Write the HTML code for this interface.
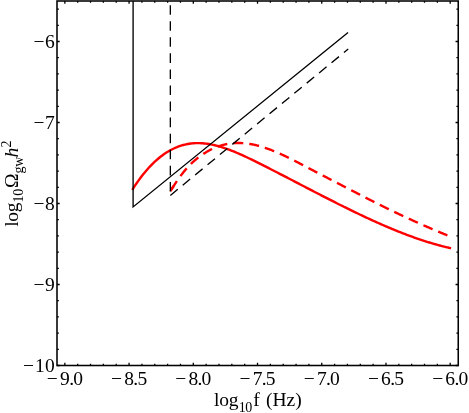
<!DOCTYPE html>
<html><head><meta charset="utf-8"><title>plot</title>
<style>
html,body{margin:0;padding:0;background:#fff;}
body{width:469px;height:413px;overflow:hidden;}
svg{display:block;will-change:transform;transform:translateZ(0);}
text{font-family:"Liberation Serif",serif;font-size:19.5px;fill:#000;}
</style></head><body>
<svg width="469" height="413" viewBox="0 0 469 413">
<rect x="0" y="0" width="469" height="413" fill="#fff"/>
<clipPath id="c"><rect x="57.0" y="1.0" width="401.25" height="364.5"/></clipPath>
<g clip-path="url(#c)" fill="none">
<path d="M132.30 189.81 L133.80 187.46 L135.30 185.19 L136.80 182.98 L138.30 180.85 L139.80 178.78 L141.30 176.78 L142.80 174.84 L144.30 172.97 L145.80 171.17 L147.30 169.43 L148.80 167.76 L150.30 166.15 L151.80 164.60 L153.30 163.11 L154.80 161.68 L156.30 160.31 L157.80 159.00 L159.30 157.75 L160.80 156.55 L162.30 155.42 L163.80 154.34 L165.30 153.31 L166.80 152.34 L168.30 151.42 L169.80 150.55 L171.30 149.74 L172.80 148.98 L174.30 148.27 L175.80 147.60 L177.30 146.99 L178.80 146.43 L180.30 145.91 L181.80 145.44 L183.30 145.01 L184.80 144.63 L186.30 144.30 L187.80 144.01 L189.30 143.76 L190.80 143.55 L192.30 143.38 L193.80 143.26 L195.30 143.17 L196.80 143.13 L198.30 143.12 L199.80 143.15 L201.30 143.21 L202.80 143.31 L204.30 143.44 L205.80 143.61 L207.30 143.80 L208.80 144.03 L210.30 144.29 L211.80 144.58 L213.30 144.90 L214.80 145.24 L216.30 145.61 L217.80 146.00 L219.30 146.42 L220.80 146.86 L222.30 147.33 L223.80 147.81 L225.30 148.32 L226.80 148.84 L228.30 149.38 L229.80 149.94 L231.30 150.52 L232.80 151.11 L234.30 151.72 L235.80 152.34 L237.30 152.98 L238.80 153.63 L240.30 154.29 L241.80 154.96 L243.30 155.64 L244.80 156.33 L246.30 157.04 L247.80 157.75 L249.30 158.46 L250.80 159.19 L252.30 159.92 L253.80 160.66 L255.30 161.40 L256.80 162.14 L258.30 162.89 L259.80 163.64 L261.30 164.40 L262.80 165.15 L264.30 165.91 L265.80 166.67 L267.30 167.43 L268.80 168.19 L270.30 168.96 L271.80 169.72 L273.30 170.49 L274.80 171.26 L276.30 172.03 L277.80 172.80 L279.30 173.57 L280.80 174.34 L282.30 175.12 L283.80 175.89 L285.30 176.67 L286.80 177.44 L288.30 178.22 L289.80 179.00 L291.30 179.77 L292.80 180.55 L294.30 181.33 L295.80 182.11 L297.30 182.89 L298.80 183.67 L300.30 184.45 L301.80 185.23 L303.30 186.01 L304.80 186.79 L306.30 187.56 L307.80 188.34 L309.30 189.12 L310.80 189.90 L312.30 190.67 L313.80 191.45 L315.30 192.22 L316.80 193.00 L318.30 193.77 L319.80 194.54 L321.30 195.32 L322.80 196.09 L324.30 196.85 L325.80 197.62 L327.30 198.39 L328.80 199.15 L330.30 199.91 L331.80 200.68 L333.30 201.44 L334.80 202.19 L336.30 202.95 L337.80 203.70 L339.30 204.46 L340.80 205.21 L342.30 205.95 L343.80 206.70 L345.30 207.44 L346.80 208.18 L348.30 208.92 L349.80 209.65 L351.30 210.39 L352.80 211.12 L354.30 211.84 L355.80 212.57 L357.30 213.29 L358.80 214.01 L360.30 214.72 L361.80 215.44 L363.30 216.14 L364.80 216.85 L366.30 217.55 L367.80 218.25 L369.30 218.94 L370.80 219.63 L372.30 220.32 L373.80 221.00 L375.30 221.68 L376.80 222.35 L378.30 223.02 L379.80 223.69 L381.30 224.35 L382.80 225.00 L384.30 225.65 L385.80 226.30 L387.30 226.94 L388.80 227.58 L390.30 228.21 L391.80 228.83 L393.30 229.46 L394.80 230.07 L396.30 230.68 L397.80 231.28 L399.30 231.88 L400.80 232.48 L402.30 233.06 L403.80 233.64 L405.30 234.22 L406.80 234.79 L408.30 235.35 L409.80 235.90 L411.30 236.45 L412.80 236.99 L414.30 237.53 L415.80 238.06 L417.30 238.58 L418.80 239.10 L420.30 239.60 L421.80 240.10 L423.30 240.60 L424.80 241.08 L426.30 241.56 L427.80 242.03 L429.30 242.50 L430.80 242.95 L432.30 243.40 L433.80 243.84 L435.30 244.27 L436.80 244.69 L438.30 245.11 L439.80 245.51 L441.30 245.91 L442.80 246.30 L444.30 246.68 L445.80 247.05 L447.30 247.42 L448.80 247.77 L450.30 248.12 L451.10 248.30" stroke="#f00" stroke-width="2.4" stroke-linejoin="round"/>
<path d="M170.50 191.04 L171.25 189.82 L172.00 188.61 L172.75 187.42 L173.50 186.24 L174.25 185.08 L175.00 183.93 L175.75 182.80 L176.50 181.68 L177.25 180.59 L178.00 179.51 L178.75 178.44 L179.50 177.40 L180.25 176.37 L181.00 175.37 L181.75 174.38 L182.50 173.41 L183.25 172.46 L184.00 171.53 L184.75 170.62 L185.50 169.74 L186.25 168.87 L187.00 168.03 L187.75 167.21 L188.50 166.41 L189.25 165.62 L190.00 164.86 L190.75 164.12 L191.50 163.39 L192.25 162.68 L193.00 161.99 L193.75 161.32 L194.50 160.66 L195.25 160.02 L196.00 159.39 L196.75 158.78 L197.50 158.18 L198.25 157.60 L199.00 157.02 L199.75 156.46 L200.50 155.92 L201.25 155.38 L202.00 154.86 L202.75 154.35 L203.50 153.85 L204.25 153.37 L205.00 152.90 L205.75 152.44 L206.50 151.99 L207.25 151.55 L208.00 151.12 L208.75 150.71 L209.50 150.31 L210.25 149.92 L211.00 149.54 L211.75 149.17 L212.50 148.81 L213.25 148.47 L214.00 148.14 L214.75 147.81 L215.50 147.50 L216.25 147.20 L217.00 146.91 L217.75 146.63 L218.50 146.37 L219.25 146.11 L220.00 145.86 L220.75 145.63 L221.50 145.40 L222.25 145.19 L223.00 144.99 L223.75 144.79 L224.50 144.61 L225.25 144.44 L226.00 144.27 L226.75 144.12 L227.50 143.98 L228.25 143.85 L229.00 143.72 L229.75 143.61 L230.50 143.51 L231.25 143.42 L232.00 143.33 L232.75 143.26 L233.50 143.19 L234.25 143.14 L235.00 143.09 L235.75 143.06 L236.50 143.03 L237.25 143.01 L238.00 143.00 L238.75 143.00 L239.50 143.01 L240.25 143.02 L241.00 143.05 L241.75 143.08 L242.50 143.12 L243.25 143.18 L244.00 143.23 L244.75 143.30 L245.50 143.37 L246.25 143.46 L247.00 143.55 L247.75 143.64 L248.50 143.75 L249.25 143.86 L250.00 143.98 L250.75 144.11 L251.50 144.24 L252.25 144.39 L253.00 144.54 L253.75 144.69 L254.50 144.85 L255.25 145.02 L256.00 145.20 L256.75 145.38 L257.50 145.57 L258.25 145.76 L259.00 145.96 L259.75 146.17 L260.50 146.38 L261.25 146.60 L262.00 146.83 L262.75 147.06 L263.50 147.29 L264.25 147.54 L265.00 147.78 L265.75 148.04 L266.50 148.29 L267.25 148.56 L268.00 148.82 L268.75 149.10 L269.50 149.37 L270.25 149.66 L271.00 149.94 L271.75 150.24 L272.50 150.53 L273.25 150.83 L274.00 151.14 L274.75 151.44 L275.50 151.76 L276.25 152.07 L277.00 152.39 L277.75 152.72 L278.50 153.05 L279.25 153.38 L280.00 153.71 L280.75 154.05 L281.50 154.39 L282.25 154.74 L283.00 155.09 L283.75 155.44 L284.50 155.79 L285.25 156.15 L286.00 156.51 L286.75 156.87 L287.50 157.23 L288.25 157.60 L289.00 157.97 L289.75 158.34 L290.50 158.71 L291.25 159.09 L292.00 159.46 L292.75 159.84 L293.50 160.22 L294.25 160.61 L295.00 160.99 L295.75 161.37 L296.50 161.76 L297.25 162.15 L298.00 162.54 L298.75 162.93 L299.50 163.32 L300.25 163.71 L301.00 164.10 L301.75 164.50 L302.50 164.89 L303.25 165.28 L304.00 165.68 L304.75 166.07 L305.50 166.47 L306.25 166.86 L307.00 167.26 L307.75 167.65 L308.50 168.04 L309.25 168.44 L310.00 168.83 L310.75 169.23 L311.50 169.62 L312.25 170.01 L313.00 170.40 L313.75 170.80 L314.50 171.19 L315.25 171.58 L316.00 171.97 L316.75 172.36 L317.50 172.75 L318.25 173.14 L319.00 173.53 L319.75 173.92 L320.50 174.31 L321.25 174.70 L322.00 175.09 L322.75 175.48 L323.50 175.87 L324.25 176.26 L325.00 176.65 L325.75 177.04 L326.50 177.42 L327.25 177.81 L328.00 178.20 L328.75 178.59 L329.50 178.98 L330.25 179.37 L331.00 179.75 L331.75 180.14 L332.50 180.53 L333.25 180.92 L334.00 181.30 L334.75 181.69 L335.50 182.08 L336.25 182.47 L337.00 182.85 L337.75 183.24 L338.50 183.63 L339.25 184.02 L340.00 184.40 L340.75 184.79 L341.50 185.18 L342.25 185.56 L343.00 185.95 L343.75 186.34 L344.50 186.73 L345.25 187.12 L346.00 187.50 L346.75 187.89 L347.50 188.28 L348.25 188.67 L349.00 189.05 L349.75 189.44 L350.50 189.83 L351.25 190.22 L352.00 190.61 L352.75 191.00 L353.50 191.38 L354.25 191.77 L355.00 192.16 L355.75 192.55 L356.50 192.93 L357.25 193.32 L358.00 193.71 L358.75 194.10 L359.50 194.48 L360.25 194.87 L361.00 195.26 L361.75 195.64 L362.50 196.03 L363.25 196.41 L364.00 196.80 L364.75 197.18 L365.50 197.57 L366.25 197.95 L367.00 198.33 L367.75 198.72 L368.50 199.10 L369.25 199.48 L370.00 199.86 L370.75 200.24 L371.50 200.63 L372.25 201.01 L373.00 201.39 L373.75 201.76 L374.50 202.14 L375.25 202.52 L376.00 202.90 L376.75 203.27 L377.50 203.65 L378.25 204.03 L379.00 204.40 L379.75 204.77 L380.50 205.15 L381.25 205.52 L382.00 205.89 L382.75 206.26 L383.50 206.63 L384.25 207.00 L385.00 207.37 L385.75 207.74 L386.50 208.10 L387.25 208.47 L388.00 208.83 L388.75 209.20 L389.50 209.56 L390.25 209.93 L391.00 210.29 L391.75 210.65 L392.50 211.01 L393.25 211.37 L394.00 211.73 L394.75 212.09 L395.50 212.45 L396.25 212.80 L397.00 213.16 L397.75 213.51 L398.50 213.87 L399.25 214.22 L400.00 214.58 L400.75 214.93 L401.50 215.28 L402.25 215.63 L403.00 215.98 L403.75 216.33 L404.50 216.68 L405.25 217.03 L406.00 217.38 L406.75 217.72 L407.50 218.07 L408.25 218.41 L409.00 218.76 L409.75 219.10 L410.50 219.44 L411.25 219.78 L412.00 220.13 L412.75 220.47 L413.50 220.81 L414.25 221.14 L415.00 221.48 L415.75 221.82 L416.50 222.16 L417.25 222.49 L418.00 222.83 L418.75 223.16 L419.50 223.50 L420.25 223.83 L421.00 224.16 L421.75 224.49 L422.50 224.82 L423.25 225.15 L424.00 225.48 L424.75 225.81 L425.50 226.14 L426.25 226.46 L427.00 226.79 L427.75 227.11 L428.50 227.44 L429.25 227.76 L430.00 228.09 L430.75 228.41 L431.50 228.73 L432.25 229.05 L433.00 229.37 L433.75 229.69 L434.50 230.01 L435.25 230.33 L436.00 230.64 L436.75 230.96 L437.50 231.27 L438.25 231.59 L439.00 231.90 L439.75 232.22 L440.50 232.53 L441.25 232.84 L442.00 233.15 L442.75 233.46 L443.50 233.77 L444.25 234.08 L445.00 234.39 L445.75 234.70 L446.50 235.00 L447.25 235.31 L448.00 235.61 L448.75 235.92 L449.50 236.22 L450.20 236.50" stroke="#f00" stroke-width="2.4" stroke-dasharray="10 6.055" stroke-dashoffset="-1.85" stroke-linejoin="round"/>
<path d="M170.50 191.04 L171.25 189.82 L172.00 188.61 L172.75 187.42 L173.50 186.24" stroke="#f00" stroke-width="2.4"/>
<path d="M133.1 -5 L133.1 206.9 L348.05 32.6" stroke="#000" stroke-width="1.35" stroke-linejoin="miter"/>
<path d="M170.35 195.4 L170.35 -12" stroke="#000" stroke-width="1.35" stroke-dasharray="9.6 6.47" stroke-dashoffset="-3.9"/>
<path d="M170.35 195.4 L348.2 49.0" stroke="#000" stroke-width="1.35" stroke-dasharray="9.6 6.46"/>
</g>
<rect x="57.0" y="1.0" width="401.25" height="364.5" fill="none" stroke="#000" stroke-width="1.55"/>
<path d="M64.85 365.50 v-2.70 M64.85 1.00 v2.70 M77.69 365.50 v-1.85 M77.69 1.00 v1.85 M90.54 365.50 v-1.85 M90.54 1.00 v1.85 M103.39 365.50 v-1.85 M103.39 1.00 v1.85 M116.23 365.50 v-1.85 M116.23 1.00 v1.85 M129.07 365.50 v-2.70 M129.07 1.00 v2.70 M141.92 365.50 v-1.85 M141.92 1.00 v1.85 M154.76 365.50 v-1.85 M154.76 1.00 v1.85 M167.61 365.50 v-1.85 M167.61 1.00 v1.85 M180.46 365.50 v-1.85 M180.46 1.00 v1.85 M193.30 365.50 v-2.70 M193.30 1.00 v2.70 M206.14 365.50 v-1.85 M206.14 1.00 v1.85 M218.99 365.50 v-1.85 M218.99 1.00 v1.85 M231.83 365.50 v-1.85 M231.83 1.00 v1.85 M244.68 365.50 v-1.85 M244.68 1.00 v1.85 M257.52 365.50 v-2.70 M257.52 1.00 v2.70 M270.37 365.50 v-1.85 M270.37 1.00 v1.85 M283.22 365.50 v-1.85 M283.22 1.00 v1.85 M296.06 365.50 v-1.85 M296.06 1.00 v1.85 M308.91 365.50 v-1.85 M308.91 1.00 v1.85 M321.75 365.50 v-2.70 M321.75 1.00 v2.70 M334.59 365.50 v-1.85 M334.59 1.00 v1.85 M347.44 365.50 v-1.85 M347.44 1.00 v1.85 M360.29 365.50 v-1.85 M360.29 1.00 v1.85 M373.13 365.50 v-1.85 M373.13 1.00 v1.85 M385.98 365.50 v-2.70 M385.98 1.00 v2.70 M398.82 365.50 v-1.85 M398.82 1.00 v1.85 M411.66 365.50 v-1.85 M411.66 1.00 v1.85 M424.51 365.50 v-1.85 M424.51 1.00 v1.85 M437.36 365.50 v-1.85 M437.36 1.00 v1.85 M450.20 365.50 v-2.70 M450.20 1.00 v2.70 M57.00 365.50 h2.70 M458.25 365.50 h-2.70 M57.00 349.30 h1.85 M458.25 349.30 h-1.85 M57.00 333.10 h1.85 M458.25 333.10 h-1.85 M57.00 316.90 h1.85 M458.25 316.90 h-1.85 M57.00 300.70 h1.85 M458.25 300.70 h-1.85 M57.00 284.50 h2.70 M458.25 284.50 h-2.70 M57.00 268.30 h1.85 M458.25 268.30 h-1.85 M57.00 252.10 h1.85 M458.25 252.10 h-1.85 M57.00 235.90 h1.85 M458.25 235.90 h-1.85 M57.00 219.70 h1.85 M458.25 219.70 h-1.85 M57.00 203.50 h2.70 M458.25 203.50 h-2.70 M57.00 187.30 h1.85 M458.25 187.30 h-1.85 M57.00 171.10 h1.85 M458.25 171.10 h-1.85 M57.00 154.90 h1.85 M458.25 154.90 h-1.85 M57.00 138.70 h1.85 M458.25 138.70 h-1.85 M57.00 122.50 h2.70 M458.25 122.50 h-2.70 M57.00 106.30 h1.85 M458.25 106.30 h-1.85 M57.00 90.10 h1.85 M458.25 90.10 h-1.85 M57.00 73.90 h1.85 M458.25 73.90 h-1.85 M57.00 57.70 h1.85 M458.25 57.70 h-1.85 M57.00 41.50 h2.70 M458.25 41.50 h-2.70 M57.00 25.30 h1.85 M458.25 25.30 h-1.85 M57.00 9.10 h1.85 M458.25 9.10 h-1.85" stroke="#000" stroke-width="1.3" fill="none"/>
<g>
<text x="64.85" y="384.7" text-anchor="middle" dx="0 2.2 -0.6 -0.85">−9.0</text>
<text x="129.07" y="384.7" text-anchor="middle" dx="0 2.2 -0.6 -0.85">−8.5</text>
<text x="193.30" y="384.7" text-anchor="middle" dx="0 2.2 -0.6 -0.85">−8.0</text>
<text x="257.52" y="384.7" text-anchor="middle" dx="0 2.2 -0.6 -0.85">−7.5</text>
<text x="321.75" y="384.7" text-anchor="middle" dx="0 2.2 -0.6 -0.85">−7.0</text>
<text x="385.98" y="384.7" text-anchor="middle" dx="0 2.2 -0.6 -0.85">−6.5</text>
<text x="450.20" y="384.7" text-anchor="middle" dx="0 2.2 -0.6 -0.85">−6.0</text>
<text x="54.8" y="48.25" text-anchor="end" dx="0 0.6">−6</text>
<text x="54.8" y="129.25" text-anchor="end" dx="0 0.6">−7</text>
<text x="54.8" y="210.25" text-anchor="end" dx="0 0.6">−8</text>
<text x="54.8" y="291.25" text-anchor="end" dx="0 0.6">−9</text>
<text x="54.8" y="372.25" text-anchor="end" dx="0 1.0 0.2">−10</text>
</g>
<text y="406.2"><tspan x="214.1" letter-spacing="-0.27">log</tspan><tspan x="238.7" dy="5.3" font-size="14" letter-spacing="-0.5">10</tspan><tspan x="253.3" dy="-5.3">f</tspan><tspan x="266.0">(Hz)</tspan></text>
<text transform="translate(17.6 226.86) rotate(-90)"><tspan x="0" y="0" letter-spacing="-0.25">log</tspan><tspan x="24.3" y="5.6" font-size="14" letter-spacing="-0.1">10</tspan><tspan x="38.9" y="0">Ω</tspan><tspan x="53.4" y="5.6" font-size="14" letter-spacing="-0.4">gw</tspan><tspan x="69.3" y="0" font-style="italic">h</tspan><tspan x="79.3" y="-7.1" font-size="14">2</tspan></text>
</svg>
</body></html>
